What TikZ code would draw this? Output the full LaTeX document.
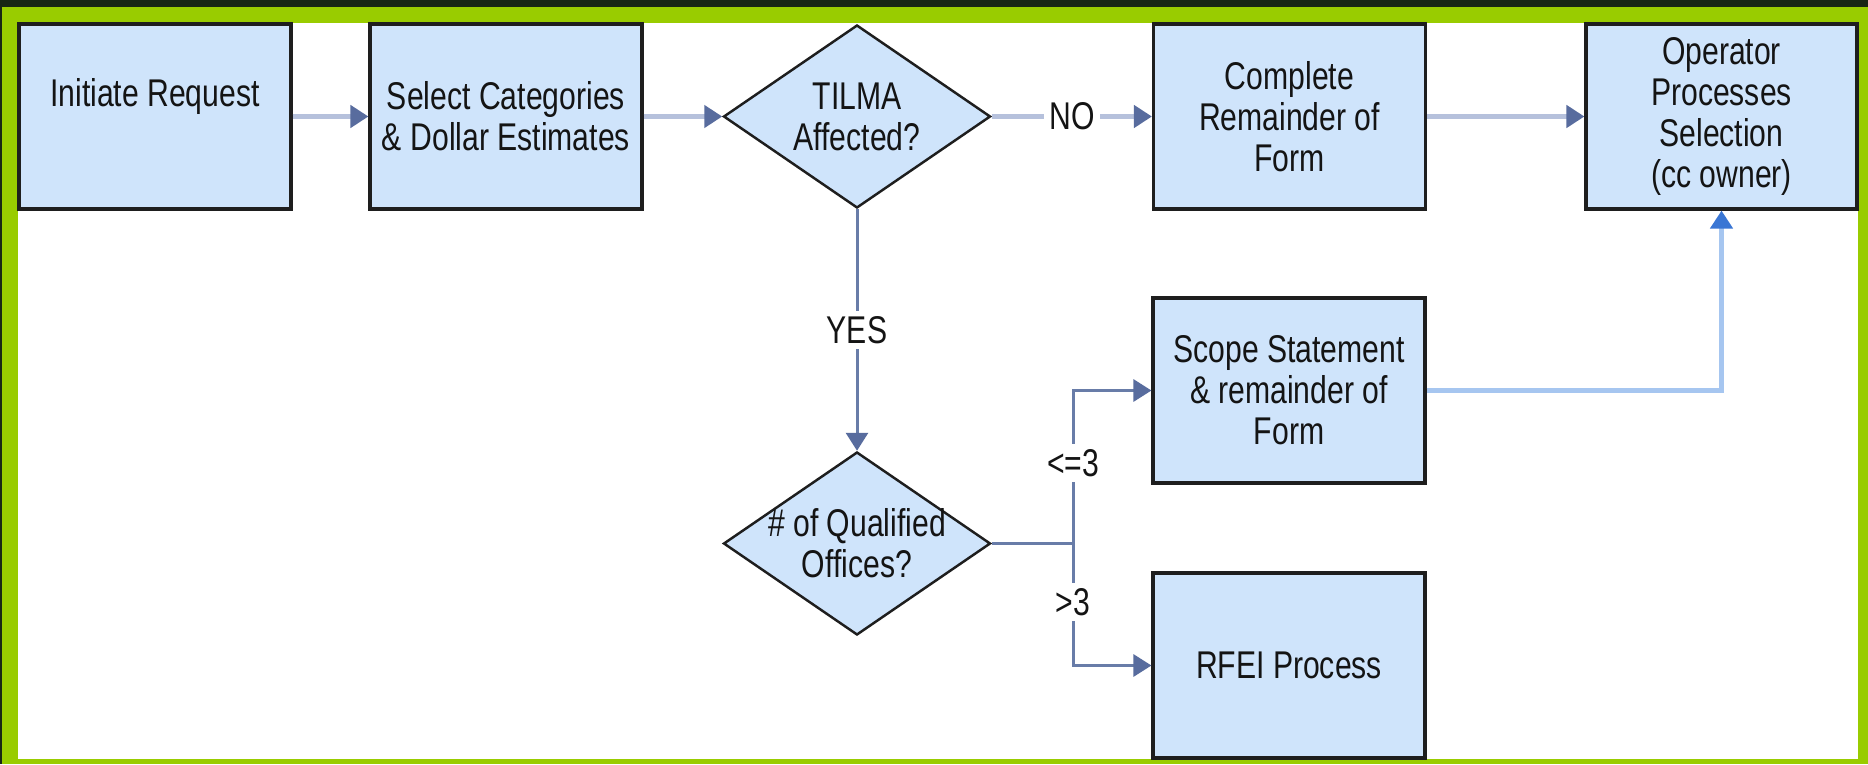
\documentclass[tikz,border=0pt]{standalone}
\usepackage{fontspec}
\setmainfont{Liberation Sans}[FakeStretch=0.78]
\usepackage{xcolor}
\usepackage{tikz}
\usetikzlibrary{shapes.geometric, arrows.meta}
\definecolor{tlDark}{RGB}{24, 38, 20}
\definecolor{tlGreen}{RGB}{153, 204, 0}
\definecolor{tlFill}{RGB}{207, 228, 251}
\definecolor{tlEdge}{RGB}{30, 30, 30}
\definecolor{tlLine}{RGB}{182, 193, 220}
\definecolor{tlTip}{RGB}{88, 108, 158}
\definecolor{tlBranch}{RGB}{104, 124, 168}
\definecolor{tlLink}{RGB}{166, 198, 240}
\definecolor{tlLinkTip}{RGB}{58, 118, 212}
\definecolor{tlText}{RGB}{20, 20, 20}
\tikzset{
    base/.style={
        font=\fontsize{11pt}{11.7pt}\selectfont,
        text=tlText,
        align=center
    },
    process/.style={
        base,
        rectangle,
        draw=tlEdge,
        line width=0.9pt,
        fill=tlFill,
        inner sep=0pt,
        minimum width=2.72cm,
        minimum height=1.85cm
    },
    decision/.style={
        base,
        diamond,
        aspect=1.46,
        draw=tlEdge,
        line width=0.7pt,
        fill=tlFill,
        inner sep=-2mm,
        minimum width=2.67cm,
        minimum height=1.83cm
    },
    flow/.style={
        -{Triangle[length=1.8mm, width=2.2mm, color=tlTip]},
        line width=0.55mm,
        color=tlLine
    },
    branch/.style={
        line width=0.3mm,
        color=tlBranch
    },
    link/.style={
        -{Triangle[length=1.8mm, width=2.2mm, color=tlLinkTip]},
        line width=0.55mm,
        color=tlLink
    },
    tag/.style={
        base,
        fill=white,
        inner sep=1.5pt
    }
}

\begin{document}
\begin{tikzpicture}
    % Frame
    \fill[tlDark] (0,0) rectangle (18.68,7.64);
    \fill[tlGreen] (0.02,0) rectangle (18.68,7.57);
    \fill[white] (0.18,0.05) rectangle (18.58,7.41);

    % Top row
    \node[process, text height=2.9mm, text depth=5mm] (init) at (1.55,6.475) {Initiate Request};
    \node[process] (select) at (5.06,6.475) {Select Categories\\\& Dollar Estimates};
    \node[decision] (tilma) at (8.57,6.475) {TILMA\\Affected?};
    \node[process] (complete) at (12.895,6.475) {Complete\\Remainder of\\Form};
    \node[process, minimum width=2.71cm] (operator) at (17.215,6.475) {Operator\\Processes\\Selection\\(cc owner)};

    % Lower part
    \node[decision] (qualified) at (8.57,2.205) {\# of Qualified\\Offices?};
    \node[process] (scope) at (12.89,3.735) {Scope Statement\\\& remainder of\\Form};
    \node[process] (rfei) at (12.89,0.985) {RFEI Process};
    \coordinate (split) at (10.73,2.205);

    % Connectors
    \draw[flow] (init) -- (select);
    \draw[flow] (select) -- (tilma);
    \draw[flow] (tilma) -- node[tag] {NO} (complete);
    \draw[flow] (complete) -- (operator);
    \draw[flow, branch] (tilma) -- node[tag] {YES} (qualified);
    \draw[branch] (qualified) -- (split);
    \draw[flow, branch] (split) |- node[tag, pos=0.263] {<=3} (scope);
    \draw[flow, branch] (split) |- node[tag, pos=0.24] {>3} (rfei);
    \draw[link] (scope) -| (operator);
\end{tikzpicture}
\end{document}
